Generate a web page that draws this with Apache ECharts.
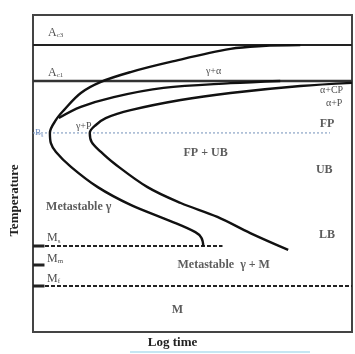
<!DOCTYPE html>
<html>
<head>
<meta charset="utf-8">
<script src="https://cdn.jsdelivr.net/npm/echarts@6/dist/echarts.min.js"></script>
<style>
  html, body { margin: 0; padding: 0; background: #fff; }
  #chart { width: 355px; height: 354px; }
</style>
</head>
<body>
<div id="chart"></div>
<script>
'use strict';

// schematic axes: log time 0..100, temperature 0..100 (no scale shown)
const ferriteCurve = [
  [83.8, 90.5], [71.9, 90.2], [61.9, 89.3], [43.1, 85.2], [30.6, 82.0],
  [21.3, 78.9], [15.0, 75.4], [9.7, 70.0], [7.2, 66.9], [5.3, 62.8],
  [5.6, 59.6], [7.2, 56.8], [11.9, 52.1], [20.3, 45.7], [30.6, 40.1],
  [43.1, 35.0], [50.9, 31.5], [52.8, 29.7], [53.4, 27.1]
];
const pearliteCurve = [
  [8.1, 67.5], [15.0, 71.0], [25.3, 74.1], [40.9, 77.0], [61.9, 78.5], [77.5, 79.2]
];
const bainiteCurve = [
  [100, 78.6], [83.8, 77.6], [61.9, 75.4], [46.3, 73.2], [30.6, 70.0],
  [22.8, 67.5], [19.7, 65.3], [17.8, 62.8], [18.4, 59.9], [21.3, 56.8],
  [25.3, 53.3], [35.9, 45.7], [46.3, 40.7], [57.8, 36.3], [68.1, 31.2], [80.0, 25.9]
];

// critical temperatures
const ac3 = 90.5;
const ac1 = 79.2;
const bs = 62.8;
const ms = 27.1;
const mm = 21.1;
const mf = 14.5;

// [x, y, text, align]
const labels = [
  [4.7, 94.3, '{b|A}{s|c3}', 'left'],
  [4.7, 81.7, '{b|A}{s|c1}', 'left'],
  [0.6, 62.8, '{bs|B}{bss|s}', 'left'],
  [56.6, 82.2, '{sm|γ+α}', 'center'],
  [15.9, 64.9, '{sm|γ+P}', 'center'],
  [93.6, 76.3, '{sm|α+CP}', 'center'],
  [94.4, 72.2, '{sm|α+P}', 'center'],
  [92.2, 65.6, '{m|FP}', 'center'],
  [54.1, 56.5, '{m|FP + UB}', 'center'],
  [91.3, 51.1, '{m|UB}', 'center'],
  [92.2, 30.6, '{m|LB}', 'center'],
  [4.1, 39.4, '{m|Metastable γ}', 'left'],
  [45.3, 21.1, '{m|Metastable  γ + M}', 'left'],
  [45.3, 6.9, '{m|M}', 'center'],
  [4.4, 29.6, '{b|M}{s|s}', 'left'],
  [4.4, 23.2, '{b|M}{s|m}', 'left'],
  [4.4, 16.8, '{b|M}{s|f}', 'left']
];

const serif = '"Liberation Serif", "DejaVu Serif", serif';
const chart = echarts.init(document.getElementById('chart'));

function hLine(y, x0, x1, style) {
  return {
    type: 'line', data: [[x0, y], [x1, y]], showSymbol: false, silent: true,
    lineStyle: style, z: 2
  };
}

function curve(data) {
  return {
    type: 'line', data: data, smooth: 0.35, showSymbol: false, silent: true,
    lineStyle: { color: '#111', width: 2.4 }, z: 3
  };
}

const option = {
  animation: false,
  grid: {
    left: 32, right: 3, top: 15, bottom: 22, show: true,
    borderColor: '#444', borderWidth: 2, backgroundColor: '#fff'
  },
  xAxis: {
    type: 'value', min: 0, max: 100,
    axisLine: { show: false }, axisTick: { show: false },
    axisLabel: { show: false }, splitLine: { show: false },
    name: 'Log time', nameLocation: 'middle', nameGap: 4,
    nameTextStyle: {
      fontFamily: serif, fontWeight: 'bold', fontSize: 13, color: '#222',
      verticalAlign: 'top', padding: [0, 40, 0, 0]
    }
  },
  yAxis: {
    type: 'value', min: 0, max: 100,
    axisLine: { show: false }, axisTick: { show: false },
    axisLabel: { show: false }, splitLine: { show: false },
    name: 'Temperature', nameLocation: 'middle', nameGap: 12, nameRotate: 90,
    nameTextStyle: {
      fontFamily: serif, fontWeight: 'bold', fontSize: 13, color: '#222',
      padding: [0, 54, 0, 0]
    }
  },
  graphic: [{
    type: 'line', shape: { x1: 130, y1: 352, x2: 310, y2: 352 },
    style: { stroke: '#c6e6f2', lineWidth: 2 }
  }],
  series: [
    hLine(ac3, 0, 100, { color: '#222', width: 2 }),
    hLine(ac1, 0, 100, { color: '#333', width: 2.6 }),
    hLine(bs, 0, 93.1, { color: '#8aa2c4', width: 1.2, type: [2, 2] }),
    hLine(ms, 0, 59.4, { color: '#222', width: 2, type: [4, 2] }),
    hLine(mf, 0, 100, { color: '#222', width: 2, type: [4, 2] }),
    hLine(ms, 0, 3.6, { color: '#222', width: 3 }),
    hLine(mm, 0, 3.6, { color: '#222', width: 3 }),
    hLine(mf, 0, 3.6, { color: '#222', width: 3 }),
    curve(ferriteCurve),
    curve(pearliteCurve),
    curve(bainiteCurve),
    {
      type: 'scatter', symbolSize: 0, silent: true, z: 5,
      data: labels.map(function (l) {
        return {
          value: [l[0], l[1]], name: l[2],
          label: { align: l[3] }
        };
      }),
      label: {
        show: true, position: 'inside', verticalAlign: 'middle',
        formatter: function (p) { return p.name; },
        rich: {
          b: { fontFamily: serif, fontSize: 12, color: '#222' },
          s: { fontFamily: serif, fontSize: 7, color: '#222', verticalAlign: 'bottom', padding: [5, 0, 0, 0] },
          bs: { fontFamily: serif, fontSize: 9, color: '#4f73b0' },
          bss: { fontFamily: serif, fontSize: 6, color: '#4f73b0', padding: [4, 0, 0, 0] },
          sm: { fontFamily: serif, fontSize: 10, color: '#222' },
          m: { fontFamily: serif, fontWeight: 'bold', fontSize: 12, color: '#333' }
        }
      }
    }
  ]
};

chart.setOption(option);
</script>
</body>
</html>
